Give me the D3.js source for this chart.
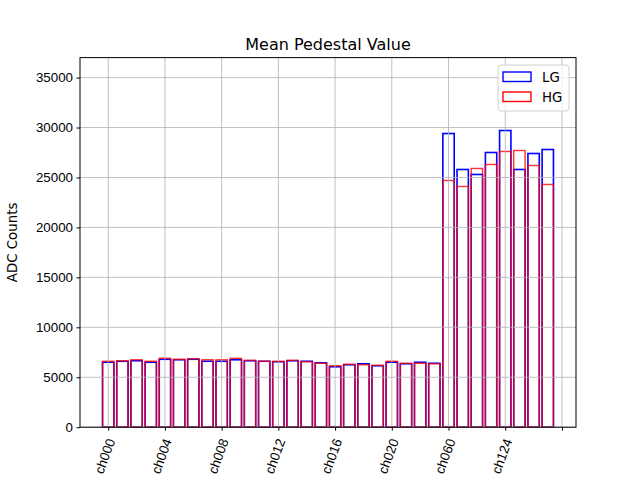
<!DOCTYPE html>
<html>
<head>
<meta charset="utf-8">
<script src="https://cdn.jsdelivr.net/npm/d3@7"></script>
<style>
  body { margin: 0; background: #fff; }
  svg { font-family: "DejaVu Sans", sans-serif; }
</style>
</head>
<body>
<div id="chart"></div>
<script>
// channel names, in plot order
const channels = [
  "ch000","ch001","ch002","ch003","ch004","ch005","ch006","ch007",
  "ch008","ch009","ch010","ch011","ch012","ch013","ch014","ch015",
  "ch016","ch017","ch018","ch019","ch020","ch021","ch022","ch023",
  "ch060","ch061","ch062","ch063","ch124","ch125","ch126","ch127"
];
const lgValues = [
  6500, 6600, 6650, 6500, 6800, 6750, 6800, 6600,
  6600, 6750, 6650, 6600, 6550, 6650, 6600, 6450,
  6050, 6250, 6350, 6150, 6500, 6350, 6500, 6400,
  29400, 25800, 25300, 27500, 29700, 25800, 27400, 27800
];
const hgValues = [
  6600, 6650, 6750, 6600, 6900, 6800, 6850, 6750,
  6750, 6900, 6700, 6600, 6600, 6700, 6550, 6400,
  6150, 6300, 6250, 6200, 6600, 6400, 6400, 6350,
  24700, 24100, 25900, 26300, 27600, 27700, 26200, 24300
];
const yTicks = [0, 5000, 10000, 15000, 20000, 25000, 30000, 35000];
const xTickIdx = [0, 4, 8, 12, 16, 20, 24, 28, 32];

const width = 640, height = 480;
const margin = {top: 57.6, right: 64, bottom: 52.8, left: 80};

const svg = d3.select("#chart").append("svg")
    .attr("width", width)
    .attr("height", height);

const x = d3.scaleLinear()
    .domain([-1.99, 32.99])
    .range([margin.left, width - margin.right]);
const y = d3.scaleLinear()
    .domain([0, 37000])
    .range([height - margin.bottom, margin.top]);
const barW = x(0.8) - x(0);

// bars (no fill)
const bars = svg.append("g");
bars.selectAll("rect.lg")
  .data(lgValues)
  .join("rect")
    .attr("class", "lg")
    .attr("x", (d, i) => x(i - 0.4))
    .attr("y", d => y(d))
    .attr("width", barW)
    .attr("height", d => y(0) - y(d))
    .attr("fill", "none")
    .attr("stroke", "blue")
    .attr("stroke-width", 1.6);
bars.selectAll("rect.hg")
  .data(hgValues)
  .join("rect")
    .attr("class", "hg")
    .attr("x", (d, i) => x(i - 0.4))
    .attr("y", d => y(d))
    .attr("width", barW)
    .attr("height", d => y(0) - y(d))
    .attr("fill", "none")
    .attr("stroke", "red")
    .attr("stroke-opacity", 0.8)
    .attr("stroke-width", 1.4);

// grid on top of the bars
const grid = svg.append("g").attr("stroke", "#b0b0b0").attr("stroke-width", 0.8);
grid.selectAll("line.gx")
  .data(xTickIdx)
  .join("line")
    .attr("x1", d => x(d)).attr("x2", d => x(d))
    .attr("y1", margin.top).attr("y2", height - margin.bottom);
grid.selectAll("line.gy")
  .data(yTicks)
  .join("line")
    .attr("x1", margin.left).attr("x2", width - margin.right)
    .attr("y1", d => y(d)).attr("y2", d => y(d));

// axes
const xAxis = svg.append("g")
  .attr("transform", `translate(0,${height - margin.bottom})`)
  .call(d3.axisBottom(x).tickValues(xTickIdx)
    .tickFormat(d => channels[d] || "").tickSize(3.5).tickPadding(3.5));
xAxis.select(".domain").remove();
xAxis.selectAll("text")
  .attr("font-size", 13.33)
  .attr("fill", "#000")
  .attr("text-anchor", "end")
  .attr("dy", "0.35em")
  .attr("transform", "translate(3,10) rotate(-70)")
  .attr("y", 0).attr("x", -2);

const yAxis = svg.append("g")
  .attr("transform", `translate(${margin.left},0)`)
  .call(d3.axisLeft(y).tickValues(yTicks).tickFormat(d3.format("d"))
    .tickSize(3.5).tickPadding(3.5));
yAxis.select(".domain").remove();
yAxis.selectAll("text").attr("font-size", 13.33).attr("fill", "#000");

// frame
svg.append("rect")
  .attr("x", margin.left).attr("y", margin.top)
  .attr("width", width - margin.left - margin.right)
  .attr("height", height - margin.top - margin.bottom)
  .attr("fill", "none").attr("stroke", "#000").attr("stroke-width", 1);

svg.append("text")
  .attr("x", (margin.left + width - margin.right) / 2)
  .attr("y", margin.top - 8)
  .attr("text-anchor", "middle")
  .attr("font-size", 16)
  .text("Mean Pedestal Value");
svg.append("text")
  .attr("transform", "rotate(-90)")
  .attr("x", -(margin.top + height - margin.bottom) / 2)
  .attr("y", 17)
  .attr("text-anchor", "middle")
  .attr("font-size", 13.33)
  .text("ADC Counts");

// legend
const legend = svg.append("g").attr("transform", "translate(498,65)");
legend.append("rect")
  .attr("width", 71).attr("height", 46).attr("rx", 3)
  .attr("fill", "#fff").attr("fill-opacity", 0.8)
  .attr("stroke", "#d0d0d0");
[["LG", "blue"], ["HG", "red"]].forEach(([name, col], i) => {
  legend.append("rect")
    .attr("x", 5).attr("y", 7 + i * 20)
    .attr("width", 28).attr("height", 9.5)
    .attr("fill", "none").attr("stroke", col).attr("stroke-width", 1.4);
  legend.append("text")
    .attr("x", 44).attr("y", 16.5 + i * 20)
    .attr("font-size", 13.33)
    .text(name);
});
</script>
</body>
</html>
